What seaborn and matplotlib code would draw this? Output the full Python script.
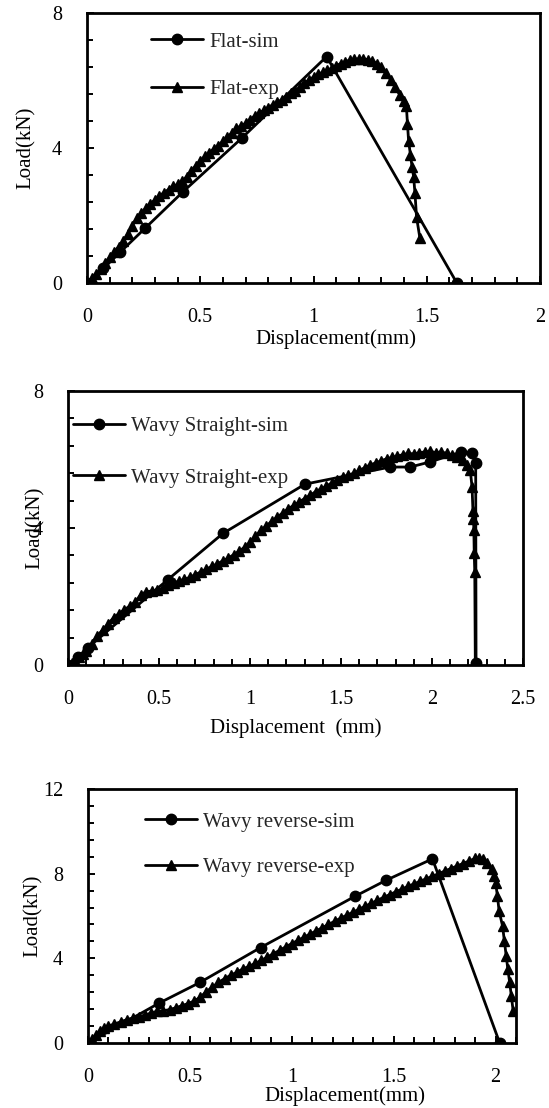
import matplotlib
matplotlib.use("Agg")
import matplotlib.pyplot as plt
from matplotlib.ticker import MultipleLocator, FuncFormatter
import seaborn as sns

# ---------------- Panel 1: Flat ----------------
flat_sim_x = [0.0, 0.072, 0.146, 0.256, 0.425, 0.683, 1.058, 1.633]
flat_sim_y = [0.0, 0.43, 0.91, 1.62, 2.71, 4.29, 6.71, 0.0]

flat_exp_x = [0.00, 0.02, 0.04, 0.06, 0.08, 0.10, 0.12, 0.14, 0.16, 0.18,
              0.20, 0.22, 0.24, 0.26, 0.28, 0.30, 0.32, 0.34, 0.36, 0.38,
              0.40, 0.42, 0.44, 0.46, 0.48, 0.50, 0.52, 0.54, 0.56, 0.58,
              0.60, 0.62, 0.64, 0.66, 0.68, 0.70, 0.72, 0.74, 0.76, 0.78,
              0.80, 0.82, 0.84, 0.86, 0.88, 0.90, 0.92, 0.94, 0.96, 0.98,
              1.00, 1.02, 1.04, 1.06, 1.08, 1.10, 1.12, 1.14, 1.16, 1.18,
              1.20, 1.22, 1.24, 1.26, 1.28, 1.30, 1.32, 1.34, 1.36, 1.38,
              1.40, 1.41, 1.415, 1.42, 1.428, 1.435, 1.442, 1.448, 1.455, 1.47]
flat_exp_y = [0.00, 0.14, 0.28, 0.42, 0.60, 0.76, 0.92, 1.08, 1.24, 1.45,
              1.70, 1.92, 2.08, 2.22, 2.35, 2.46, 2.58, 2.68, 2.77, 2.86,
              2.92, 3.02, 3.15, 3.32, 3.48, 3.62, 3.75, 3.86, 3.98, 4.07,
              4.20, 4.32, 4.45, 4.58, 4.66, 4.73, 4.84, 4.95, 5.03, 5.12,
              5.20, 5.28, 5.35, 5.43, 5.52, 5.62, 5.70, 5.80, 5.92, 6.02,
              6.10, 6.18, 6.24, 6.30, 6.36, 6.44, 6.50, 6.56, 6.60, 6.63,
              6.64, 6.64, 6.62, 6.58, 6.50, 6.40, 6.22, 6.02, 5.80, 5.58,
              5.38, 5.25, 4.70, 4.20, 3.80, 3.45, 3.15, 2.66, 1.95, 1.32]

# ---------------- Panel 2: Wavy Straight ----------------
ws_sim_x = [0.0, 0.054, 0.11, 0.548, 0.851, 1.302, 1.77, 1.88, 1.99, 2.16, 2.22, 2.24, 2.242]
ws_sim_y = [0.0, 0.22, 0.51, 2.49, 3.84, 5.28, 5.78, 5.78, 5.93, 6.22, 6.19, 5.90, 0.05]

ws_exp_x = [0.00, 0.02, 0.04, 0.06, 0.08, 0.10, 0.13, 0.16, 0.19, 0.22,
            0.25, 0.28, 0.31, 0.34, 0.37, 0.40, 0.43, 0.46, 0.49, 0.52,
            0.55, 0.58, 0.61, 0.64, 0.67, 0.70, 0.73, 0.76, 0.79, 0.82,
            0.85, 0.88, 0.91, 0.94, 0.97, 1.00, 1.03, 1.06, 1.09, 1.12,
            1.15, 1.18, 1.21, 1.24, 1.27, 1.30, 1.33, 1.36, 1.39, 1.42,
            1.45, 1.48, 1.51, 1.54, 1.57, 1.60, 1.63, 1.66, 1.69, 1.72,
            1.75, 1.78, 1.81, 1.84, 1.87, 1.90, 1.93, 1.96, 1.99, 2.02,
            2.05, 2.08, 2.11, 2.14, 2.17, 2.19, 2.21,
            2.22, 2.225, 2.228, 2.23, 2.232, 2.235, 2.238]
ws_exp_y = [0.00, 0.05, 0.12, 0.22, 0.33, 0.42, 0.62, 0.85, 1.02, 1.20,
            1.38, 1.50, 1.62, 1.72, 1.85, 2.05, 2.14, 2.16, 2.18, 2.24,
            2.34, 2.38, 2.46, 2.50, 2.56, 2.64, 2.72, 2.80, 2.88, 2.95,
            3.04, 3.12, 3.22, 3.32, 3.44, 3.58, 3.76, 3.94, 4.06, 4.20,
            4.32, 4.44, 4.56, 4.66, 4.76, 4.86, 4.95, 5.06, 5.14, 5.22,
            5.32, 5.40, 5.48, 5.54, 5.60, 5.68, 5.76, 5.84, 5.90, 5.96,
            6.02, 6.06, 6.10, 6.14, 6.18, 6.16, 6.20, 6.22, 6.24, 6.20,
            6.22, 6.18, 6.12, 6.06, 6.00, 5.85, 5.70,
            5.20, 4.50, 4.25, 3.95, 3.27, 2.72, 0.05]

# ---------------- Panel 3: Wavy reverse ----------------
wr_sim_x = [0.0, 0.348, 0.549, 0.847, 1.312, 1.461, 1.690, 2.02]
wr_sim_y = [0.0, 1.88, 2.86, 4.51, 6.94, 7.68, 8.70, 0.0]

wr_exp_x = [0.00, 0.02, 0.04, 0.06, 0.08, 0.10, 0.13, 0.16, 0.19, 0.22,
            0.25, 0.28, 0.31, 0.34, 0.37, 0.40, 0.43, 0.46, 0.49, 0.52,
            0.55, 0.58, 0.61, 0.64, 0.67, 0.70, 0.73, 0.76, 0.79, 0.82,
            0.85, 0.88, 0.91, 0.94, 0.97, 1.00, 1.03, 1.06, 1.09, 1.12,
            1.15, 1.18, 1.21, 1.24, 1.27, 1.30, 1.33, 1.36, 1.39, 1.42,
            1.45, 1.48, 1.51, 1.54, 1.57, 1.60, 1.63, 1.66, 1.69, 1.72,
            1.75, 1.78, 1.81, 1.84, 1.87, 1.90, 1.92, 1.94, 1.96, 1.98,
            1.99, 2.00, 2.009, 2.017, 2.034, 2.043, 2.052, 2.060, 2.069, 2.077, 2.086]
wr_exp_y = [0.00, 0.20, 0.40, 0.58, 0.70, 0.80, 0.90, 1.00, 1.10, 1.18,
            1.24, 1.32, 1.42, 1.50, 1.52, 1.58, 1.66, 1.76, 1.86, 1.98,
            2.16, 2.42, 2.64, 2.86, 3.04, 3.20, 3.34, 3.50, 3.62, 3.76,
            3.90, 4.06, 4.22, 4.38, 4.54, 4.70, 4.85, 5.00, 5.15, 5.30,
            5.45, 5.60, 5.75, 5.90, 6.04, 6.18, 6.32, 6.46, 6.60, 6.74,
            6.88, 7.01, 7.14, 7.27, 7.40, 7.52, 7.64, 7.76, 7.88, 8.00,
            8.12, 8.24, 8.36, 8.48, 8.60, 8.72, 8.76, 8.70, 8.50, 8.20,
            7.88, 7.57, 6.94, 6.24, 5.53, 4.82, 4.11, 3.49, 2.86, 2.23, 1.52]

sns.set_theme(style="ticks")
plt.rcParams["font.family"] = ["Liberation Serif", "DejaVu Serif"]

W, H = 549, 1108
fig = plt.figure(figsize=(W / 100, H / 100), dpi=100)


def add_ax(l, r, t, b):
    return fig.add_axes([l / W, 1 - b / H, (r - l) / W, (b - t) / H])


panels = [
    dict(box=(87, 540, 13, 283), sx=flat_sim_x, sy=flat_sim_y, ex=flat_exp_x, ey=flat_exp_y,
         sl="Flat-sim", el="Flat-exp", xmax=2.0, ymax=8, xlabel="Displacement(mm)",
         xlab=(0.55, -0.17), ylab=-0.113, leg=(0.141, 0.929), lsp=1.35),
    dict(box=(68, 523, 391, 665), sx=ws_sim_x, sy=ws_sim_y, ex=ws_exp_x, ey=ws_exp_y,
         sl="Wavy Straight-sim", el="Wavy Straight-exp", xmax=2.5, ymax=8,
         xlabel="Displacement  (mm)", xlab=(0.5, -0.195), ylab=-0.05, leg=(0.011, 0.907), lsp=1.54),
    dict(box=(88, 516, 789, 1043), sx=wr_sim_x, sy=wr_sim_y, ex=wr_exp_x, ey=wr_exp_y,
         sl="Wavy reverse-sim", el="Wavy reverse-exp", xmax=2.1, ymax=12,
         xlabel="Displacement(mm)", xlab=(0.6, -0.17), ylab=-0.105, leg=(0.133, 0.909), lsp=1.25),
]

fmt = FuncFormatter(lambda v, p: f"{v:g}")

for p in panels:
    ax = add_ax(*p["box"])
    sns.lineplot(x=p["sx"], y=p["sy"], ax=ax, sort=False, estimator=None, color="black",
                 marker="o", markersize=7.5, markeredgecolor="black", markerfacecolor="black",
                 markeredgewidth=1.0, linewidth=2.0, label=p["sl"])
    sns.lineplot(x=p["ex"], y=p["ey"], ax=ax, sort=False, estimator=None, color="black",
                 marker="^", markersize=6.5, markeredgecolor="black", markerfacecolor="black",
                 markeredgewidth=1.0, linewidth=2.0, label=p["el"])
    ax.set_xlim(0, p["xmax"])
    ax.set_ylim(0, p["ymax"])
    ax.xaxis.set_major_locator(MultipleLocator(0.5))
    ax.xaxis.set_minor_locator(MultipleLocator(0.1))
    ax.yaxis.set_major_locator(MultipleLocator(4))
    ax.yaxis.set_minor_locator(MultipleLocator(0.8))
    ax.xaxis.set_major_formatter(fmt)
    ax.yaxis.set_major_formatter(fmt)
    ax.tick_params(which="both", direction="in", top=False, right=False, bottom=True, left=True,
                   labelsize=14.5, pad=18, color="black", width=1.4, labelcolor="black")
    ax.tick_params(which="major", length=5)
    ax.tick_params(which="minor", length=4)
    for s in ax.spines.values():
        s.set_visible(True)
        s.set_linewidth(2.0)
        s.set_color("black")
    ax.set_xlabel(p["xlabel"], fontsize=15, color="black")
    ax.xaxis.set_label_coords(*p["xlab"])
    ax.set_ylabel("Load(kN)", fontsize=15, color="black")
    ax.yaxis.set_label_coords(p["ylab"], 0.5)
    ax.legend(loc="upper left", bbox_to_anchor=p["leg"], frameon=False, fontsize=15,
              handlelength=2.5, handletextpad=0.3, labelspacing=p["lsp"],
              borderpad=0, borderaxespad=0, numpoints=1)
    ax.set_facecolor("white")

fig.savefig("out.png", dpi=100, facecolor="white")
